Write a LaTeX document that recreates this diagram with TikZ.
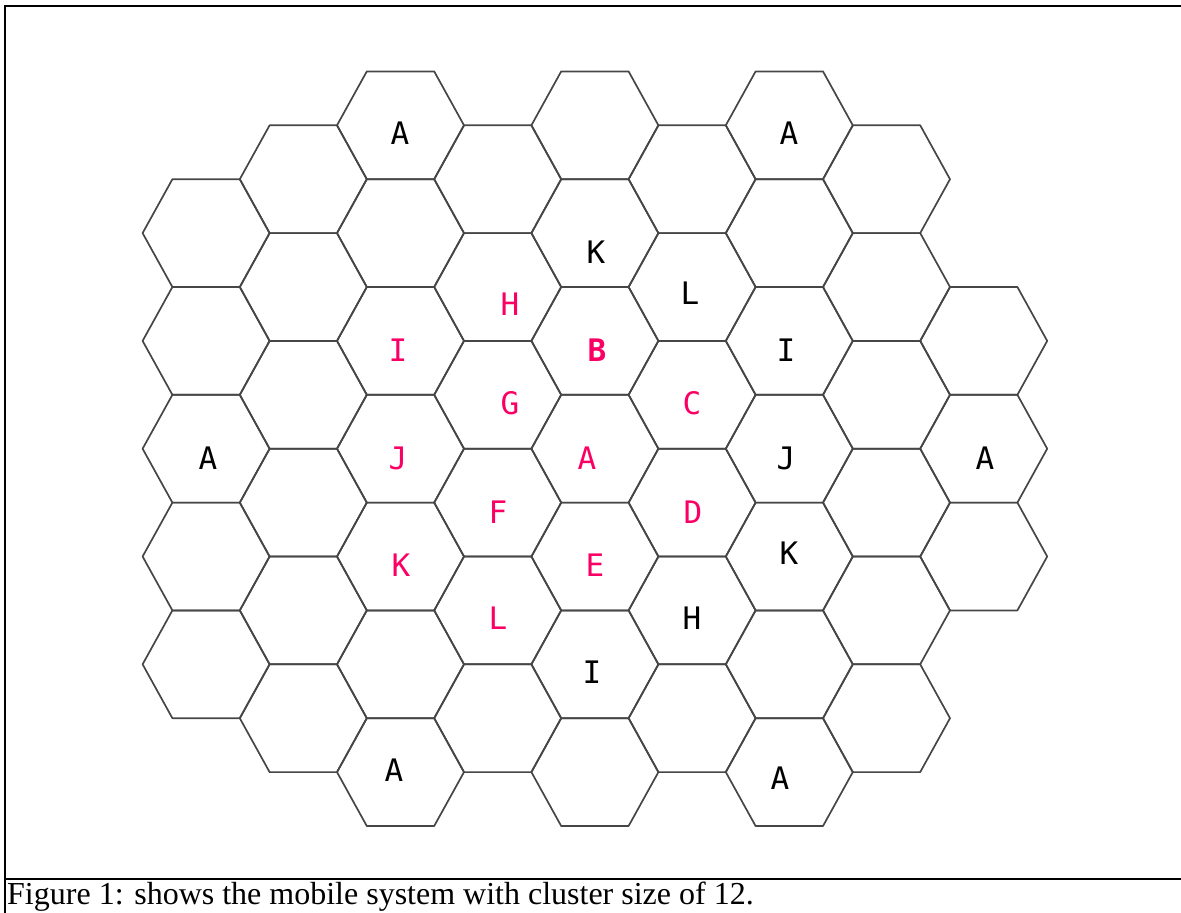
\documentclass[tikz,border=0pt]{standalone}
\usepackage{fontspec}
\setmainfont{Liberation Serif}
\newfontfamily\lblfont{DejaVu Sans Mono}
\definecolor{pinkc}{RGB}{250,0,100}
\definecolor{hexc}{RGB}{70,70,70}
\begin{document}
\begin{tikzpicture}[x=1pt,y=-1pt,
  hexline/.style={draw=hexc,line width=1.7pt,line join=round},
  lbl/.style={font=\lblfont\fontsize{31}{31}\selectfont,inner sep=0pt,anchor=center},
  lp/.style={lbl,text=pinkc},
  lk/.style={lbl,text=black},
  frame/.style={draw=black,line width=2.2pt}]
\useasboundingbox (0,0) rectangle (1181,913);
% hexagon grid
\newcommand{\hexat}[2]{%
  \draw[hexline] ({#1-63.5},{#2}) -- ({#1-33.7},{#2-53.9}) -- ({#1+33.7},{#2-53.9})
    -- ({#1+63.5},{#2}) -- ({#1+33.7},{#2+53.9}) -- ({#1-33.7},{#2+53.9}) -- cycle;}
% column 0 (even rows 1..5)
\foreach \r in {1,...,5} {\hexat{206.1}{125.3+107.8*\r}}
% column 8 (even rows 2..4)
\foreach \r in {2,...,4} {\hexat{983.7}{125.3+107.8*\r}}
% even columns 2,4,6 (rows 0..6)
\foreach \c in {2,4,6} {\foreach \r in {0,...,6} {\hexat{206.1+97.2*\c}{125.3+107.8*\r}}}
% odd columns 1,3,5,7 (rows 0..5)
\foreach \c in {1,3,5,7} {\foreach \r in {0,...,5} {\hexat{206.1+97.2*\c}{179.2+107.8*\r}}}
% labels
\node[lk] (a1) at (400,133) {A};
\node[lk] (a2) at (789,133) {A};
\node[lk] (k1) at (596,252) {K};
\node[lp] (h1) at (510,304) {H};
\node[lk] (l1) at (690,293) {L};
\node[lp] (i1) at (398,350) {I};
\node[lp,font=\lblfont\bfseries\fontsize{31}{31}\selectfont] (b1) at (597,350) {B};
\node[lk] (i2) at (786,350) {I};
\node[lp] (g1) at (510,403) {G};
\node[lp] (c1) at (692,403) {C};
\node[lk] (a3) at (208,458) {A};
\node[lp] (j1) at (398,458) {J};
\node[lp] (a4) at (587,458) {A};
\node[lk] (j2) at (786,458) {J};
\node[lk] (a5) at (985,458) {A};
\node[lp] (f1) at (498,512) {F};
\node[lp] (d1) at (693,512) {D};
\node[lp] (k2) at (401,565) {K};
\node[lp] (e1) at (595,565) {E};
\node[lk] (k3) at (789,553) {K};
\node[lp] (l2) at (498,618) {L};
\node[lk] (h2) at (692,618) {H};
\node[lk] (i3) at (592,672) {I};
\node[lk] (a6) at (394,770) {A};
\node[lk] (a7) at (780,778) {A};
% frame
\coordinate (tl) at (5,6);
\coordinate (tr) at (1181,6);
\coordinate (bl) at (5,913);
\coordinate (sl) at (5,879);
\coordinate (sr) at (1181,879);
\draw[frame] (tr) -- (tl) -- (bl);
\draw[frame] (sl) -- (sr);
\node[anchor=base west,inner sep=0pt,font=\fontsize{32}{32}\selectfont] (cap) at (7,904)
  {Figure 1: shows the mobile system with cluster size of 12.};
\end{tikzpicture}
\end{document}
